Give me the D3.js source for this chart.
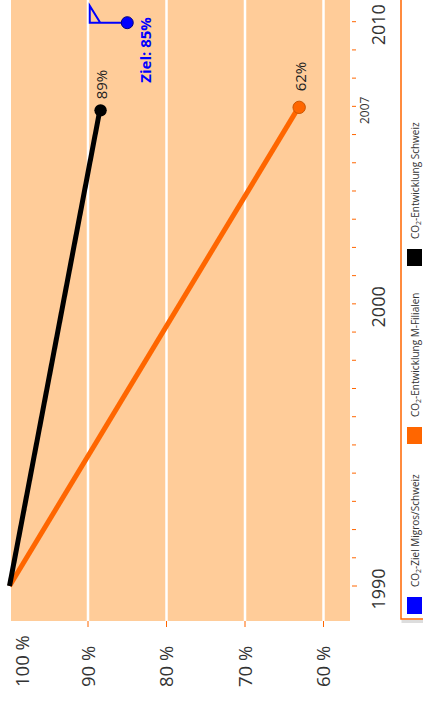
<!DOCTYPE html>
<html>
<head>
<meta charset="utf-8">
<script src="https://cdn.jsdelivr.net/npm/d3@7"></script>
<style>
  html, body { margin: 0; padding: 0; background: #ffffff; }
  svg { display: block; }
  text { font-family: "Open Sans", "DejaVu Sans", sans-serif; }
</style>
</head>
<body>
<svg id="chart" width="423" height="704"></svg>
<script>
// ---- data ----
const years = [1990, 2007];
const schweiz = [100, 88.4];          // CO2-Entwicklung Schweiz
const filialen = [100, 63.1];         // CO2-Entwicklung M-Filialen
const endLabels = ["89%", "62%"];
const targetYear = 2010;
const targetValue = 85;
const targetLabel = "Ziel: 85%";
const pctTicks = [100, 90, 80, 70, 60];
const pctTickLabels = ["100 %", "90 %", "80 %", "70 %", "60 %"];
const yearTicks = d3.range(1990, 2011);
const yearLabels = [
  { year: 1990, text: "1990", size: 18 },
  { year: 2000, text: "2000", size: 18 },
  { year: 2007, text: "2007", size: 12 },
  { year: 2010, text: "2010", size: 18 }
];
const legendItems = [
  { pre: "CO", sub: "2", post: "-Ziel Migros/Schweiz", color: "#0000ff" },
  { pre: "CO", sub: "2", post: "-Entwicklung M-Filialen", color: "#ff6600" },
  { pre: "CO", sub: "2", post: "-Entwicklung Schweiz", color: "#000000" }
];

// ---- layout ----
const svg = d3.select("#chart");
const plot = { left: 11, right: 350, top: -5, bottom: 621 };
const x = d3.scaleLinear().domain([100, 60]).range([9.5, 323.5]);      // percent (horizontal)
const y = d3.scaleLinear().domain([1990, 2010]).range([586, 21.7]);    // year (vertical)
const orange = "#ff6600";

// plot background
svg.append("rect")
  .attr("x", plot.left).attr("y", plot.top)
  .attr("width", plot.right - plot.left).attr("height", plot.bottom - plot.top)
  .attr("fill", "#ffcc99");

// gridlines
svg.append("g").selectAll("line")
  .data(pctTicks.filter(d => d !== 100))
  .join("line")
  .attr("x1", d => x(d)).attr("x2", d => x(d))
  .attr("y1", plot.top).attr("y2", plot.bottom)
  .attr("stroke", "#ffffff").attr("stroke-width", 2.5);

// percent ticks + labels
svg.append("g").selectAll("line")
  .data(pctTicks.filter(d => d !== 100))
  .join("line")
  .attr("x1", d => x(d)).attr("x2", d => x(d))
  .attr("y1", plot.bottom).attr("y2", plot.bottom + 6)
  .attr("stroke", orange).attr("stroke-width", 1);

svg.append("g").selectAll("text")
  .data(pctTicks)
  .join("text")
  .attr("transform", (d, i) => {
    const cx = Math.max(x(d), 22);
    return `translate(${cx + 6.5},687) rotate(-90)`;
  })
  .attr("text-anchor", "start")
  .attr("font-size", 18.5)
  .attr("fill", "#333")
  .text((d, i) => pctTickLabels[i]);

// year ticks
svg.append("g").selectAll("line")
  .data(yearTicks)
  .join("line")
  .attr("x1", plot.right + 2).attr("x2", d => d === 1990 ? plot.right + 7 : plot.right + 6)
  .attr("y1", d => y(d)).attr("y2", d => y(d))
  .attr("stroke", orange).attr("stroke-width", 1);

// year labels
svg.append("g").selectAll("text")
  .data(yearLabels)
  .join("text")
  .attr("transform", d => d.size > 14
        ? `translate(385,${y(d.year) + 3}) rotate(-90)`
        : `translate(368.5,${y(d.year) + 4}) rotate(-90)`)
  .attr("text-anchor", "middle")
  .attr("font-size", d => d.size)
  .attr("fill", "#333")
  .text(d => d.text);

// lines
const line = d3.line().x(d => x(d[1])).y(d => y(d[0]));
svg.append("path")
  .datum(years.map((yr, i) => [yr, filialen[i]]))
  .attr("d", line)
  .attr("fill", "none").attr("stroke", orange).attr("stroke-width", 5);
svg.append("path")
  .datum(years.map((yr, i) => [yr, schweiz[i]]))
  .attr("d", line)
  .attr("fill", "none").attr("stroke", "#000").attr("stroke-width", 5);

// end dots
const lastI = years.length - 1;
svg.append("circle")
  .attr("cx", x(schweiz[lastI])).attr("cy", y(years[lastI]) + 4)
  .attr("r", 6.2).attr("fill", "#000");
svg.append("circle")
  .attr("cx", x(filialen[lastI])).attr("cy", y(years[lastI]) + 1)
  .attr("r", 6.2).attr("fill", orange).attr("stroke", "#cc5500").attr("stroke-width", 1);

// end labels
svg.append("text")
  .attr("transform", `translate(${x(schweiz[lastI]) + 6},${y(years[lastI]) - 7}) rotate(-90)`)
  .attr("font-size", 15).attr("fill", "#222")
  .text(endLabels[0]);
svg.append("text")
  .attr("transform", `translate(${x(filialen[lastI]) + 7},${y(years[lastI]) - 15}) rotate(-90)`)
  .attr("font-size", 15).attr("fill", "#222")
  .text(endLabels[1]);

// target marker
const tx = x(targetValue), ty = y(targetYear) + 1;
svg.append("path")
  .attr("d", `M${tx},${ty} H${tx - 37.5} V${ty - 17} L${tx - 27},${ty}`)
  .attr("fill", "none").attr("stroke", "#0000ff").attr("stroke-width", 2)
  .attr("stroke-linejoin", "miter");
svg.append("circle")
  .attr("cx", tx).attr("cy", ty)
  .attr("r", 6).attr("fill", "#0000ff").attr("stroke", "#000080").attr("stroke-width", 1);
svg.append("text")
  .attr("transform", `translate(${tx + 24},${ty + 60}) rotate(-90)`)
  .attr("font-size", 15).attr("font-weight", "bold").attr("fill", "#0000ff")
  .text(targetLabel);

// legend
svg.append("rect")
  .attr("x", 401.5).attr("y", 620).attr("width", 30).attr("height", 3)
  .attr("fill", "#dddddd");
svg.append("rect")
  .attr("x", 401).attr("y", -5).attr("width", 40).attr("height", 624)
  .attr("fill", "#ffffff").attr("stroke", orange).attr("stroke-width", 1.5);

const legendSquareY = [597, 427, 249];
const lg = svg.append("g").selectAll("g")
  .data(legendItems)
  .join("g");
lg.append("rect")
  .attr("x", 407).attr("y", (d, i) => legendSquareY[i])
  .attr("width", 15).attr("height", 17)
  .attr("fill", d => d.color);
const lt = lg.append("text")
  .attr("transform", (d, i) => `translate(418.5,${legendSquareY[i] - 10}) rotate(-90)`)
  .attr("font-size", 10).attr("fill", "#333");
lt.append("tspan").text(d => d.pre);
lt.append("tspan").attr("font-size", 7).attr("dy", 2).text(d => d.sub);
lt.append("tspan").attr("dy", -2).text(d => d.post);
</script>
</body>
</html>
